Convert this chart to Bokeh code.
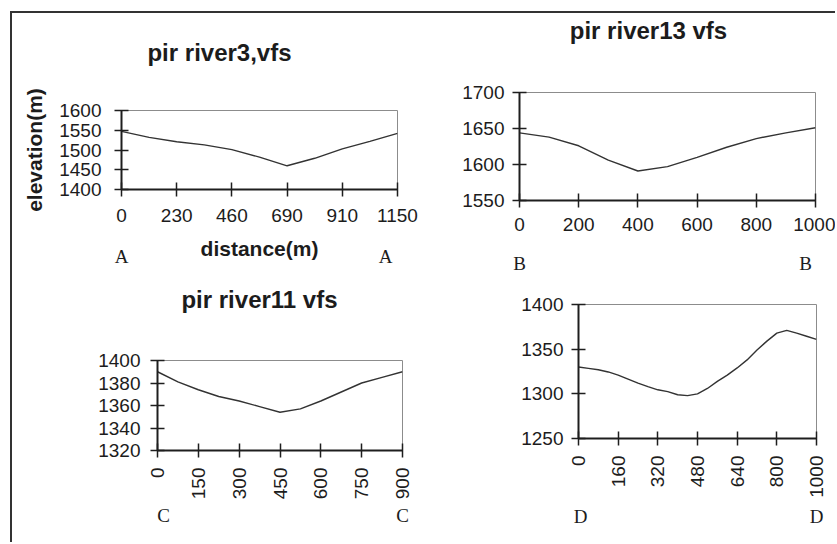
import numpy as np
from math import pi
from bokeh.plotting import figure
from bokeh.models import Range1d, FixedTicker, LinearAxis
from bokeh.layouts import column, row
from bokeh.embed import file_html
from bokeh.resources import INLINE

# ---------------- data ----------------
a_title = "pir river3,vfs"
a_labels = ["0", "230", "460", "690", "910", "1150"]
a_yticks = [1400, 1450, 1500, 1550, 1600]
a_elev = [1547, 1532, 1521, 1513, 1501, 1482, 1460, 1479, 1503, 1522, 1542]

b_title = "pir river13 vfs"
b_labels = ["0", "200", "400", "600", "800", "1000"]
b_yticks = [1550, 1600, 1650, 1700]
b_elev = [1644, 1638, 1626, 1606, 1591, 1597, 1610, 1624, 1636, 1644, 1651]

c_title = "pir river11 vfs"
c_labels = ["0", "150", "300", "450", "600", "750", "900"]
c_yticks = [1320, 1340, 1360, 1380, 1400]
c_elev = [1390, 1381, 1374, 1368, 1364, 1359, 1354, 1357, 1364, 1372, 1380, 1385, 1390]

d_labels = ["0", "160", "320", "480", "640", "800", "1000"]
d_yticks = [1250, 1300, 1350, 1400]
d_elev = [1330, 1328.5, 1327, 1324.5, 1321, 1316.5, 1312, 1308, 1304.5, 1302.5, 1299,
          1298, 1300, 1306, 1314, 1321, 1329, 1338, 1349, 1359, 1368, 1371, 1368,
          1364.5, 1361]

SANS = "Liberation Sans"
SERIF = "Liberation Serif"
TXT = "#1c1c1c"


def make_panel(X0, Y0, W, H, frame, labels, yticks, elev, rotate, tick_stand_x, tick_stand_y):
    L, R, T, B = frame
    n = len(labels)
    p = figure(width=W, height=H, x_range=Range1d(0, n - 1),
               y_range=Range1d(yticks[0], yticks[-1]),
               output_backend="svg", toolbar_location=None, title_location=None,
               frame_align=False,
               min_border_left=L - X0, min_border_right=X0 + W - R,
               min_border_top=T - Y0, min_border_bottom=Y0 + H - B)
    p.extra_x_ranges = {"px": Range1d(L, R)}
    p.grid.visible = False
    p.outline_line_color = "#8c8c8c"
    p.outline_line_width = 1
    p.background_fill_color = "white"
    p.border_fill_color = "white"
    xs = np.linspace(0, n - 1, len(elev))
    p.line(xs, elev, line_color="#333333", line_width=1.4)

    p.xaxis.ticker = FixedTicker(ticks=list(range(n)))
    p.xaxis.major_label_overrides = {i: s for i, s in enumerate(labels)}
    p.yaxis.ticker = FixedTicker(ticks=yticks)
    for ax in (p.xaxis[0], p.yaxis[0]):
        ax.axis_line_color = "#1e1e1e"
        ax.axis_line_width = 2
        ax.major_tick_line_color = "#1e1e1e"
        ax.major_tick_line_width = 1.5
        ax.major_tick_in = 7
        ax.major_tick_out = 7
        ax.minor_tick_line_color = None
        ax.major_label_text_font = SANS
        ax.major_label_text_font_size = "19px"
        ax.major_label_text_color = TXT
    p.xaxis.major_label_standoff = tick_stand_x
    p.yaxis.major_label_standoff = tick_stand_y
    if rotate:
        p.xaxis.major_label_orientation = pi / 2
    return p


def text_axis(p, place, ticks, texts, font, size, style, standoff):
    ax = LinearAxis(x_range_name="px", ticker=FixedTicker(ticks=ticks),
                    major_label_overrides=dict(zip(ticks, texts)),
                    axis_line_color=None, major_tick_line_color=None,
                    minor_tick_line_color=None, major_tick_in=0, major_tick_out=0,
                    major_label_text_font=font, major_label_text_font_size=size,
                    major_label_text_font_style=style,
                    major_label_text_color=TXT, major_label_standoff=standoff)
    p.add_layout(ax, place)


def add_title(p, frame, text, cx, standoff):
    text_axis(p, "above", [cx], [text], SANS, "24px", "bold", standoff)


def add_letters(p, frame, letter, xl, xr, standoff):
    L, R, T, B = frame
    tl, tr = max(L, xl), min(R, xr)
    text_axis(p, "below", [tl, tr], [letter, letter], SERIF, "19px", "normal", standoff)


# top-left: A
FA = (121, 397, 110, 189)
pA = make_panel(12, 13, 408, 265, FA, a_labels, a_yticks, a_elev, False, 12, 13)
pA.yaxis.axis_label = "elevation(m)"
pA.xaxis.axis_label = "distance(m)"
for ax in (pA.xaxis[0], pA.yaxis[0]):
    ax.axis_label_text_font = SANS
    ax.axis_label_text_font_size = "21px"
    ax.axis_label_text_font_style = "bold"
    ax.axis_label_text_color = TXT
pA.xaxis.axis_label_standoff = 12
pA.yaxis.axis_label_standoff = 10
add_title(pA, FA, a_title, 219, 45)
add_letters(pA, FA, "A", 118, 385, -17)

# top-right: B
FB = (519, 815, 90, 200)
pB = make_panel(420, 13, 415, 265, FB, b_labels, b_yticks, b_elev, False, 10, 8)
add_title(pB, FB, b_title, 648, 49)
add_letters(pB, FB, "B", 513, 805, 19)

# bottom-left: C
FC = (157, 402, 360, 450)
pC = make_panel(12, 278, 408, 264, FC, c_labels, c_yticks, c_elev, True, 10, 10)
add_title(pC, FC, c_title, 259, 48)
add_letters(pC, FC, "C", 163, 403, 2)

# bottom-right: D
FD = (578, 816, 304, 438)
pD = make_panel(420, 278, 415, 264, FD, d_labels, d_yticks, d_elev, True, 10, 8)
add_letters(pD, FD, "D", 580, 823, 5)

layout = column(row(pA, pB), row(pC, pD), margin=(11, 0, 0, 10),
                styles={"border-top": "2px solid #333333", "border-left": "2px solid #333333"})

open("out.html", "w").write(file_html(layout, INLINE))
